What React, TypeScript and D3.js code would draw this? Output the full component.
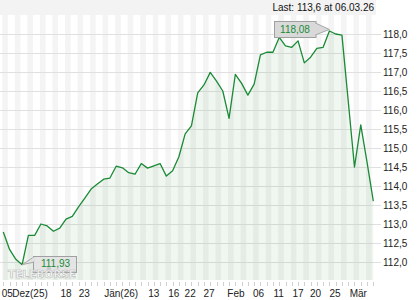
import React from "react";
import * as d3 from "d3";

const values: number[] = [
  112.79, 112.33, 112.07, 111.93, 112.7, 112.7, 113.0, 112.95, 112.81, 112.89,
  113.13, 113.2, 113.45, 113.68, 113.92, 114.05, 114.18, 114.21, 114.52, 114.48,
  114.35, 114.31, 114.59, 114.47, 114.53, 114.59, 114.26, 114.4, 114.77, 115.37,
  115.58, 116.45, 116.66, 116.99, 116.76, 116.5, 115.78, 116.94, 116.7, 116.39,
  116.68, 117.45, 117.52, 117.52, 117.91, 117.69, 117.65, 117.82, 117.24, 117.39,
  117.62, 117.65, 118.08, 118.0, 117.97, 116.24, 114.5, 115.61, 114.63, 113.6,
];

const yTicks: number[] = [112, 112.5, 113, 113.5, 114, 114.5, 115, 115.5, 116, 116.5, 117, 117.5, 118];

const xTickLabels: string[] = ["05", "Dez(25)", "18", "23", "Jän(26)", "13", "16", "22", "27", "Feb", "06", "11", "17", "20", "25", "Mär"];
const xTickIndex: number[] = [0.64, 4.26, 10, 12.9, 18.8, 24, 27.2, 29.8, 32.8, 37.1, 40.7, 43.9, 47, 49.8, 52.9, 56.6];

const lastLabel = "Last: 113,6 at 06.03.26";

const FONT = "'Liberation Sans', Arial, sans-serif";
const fmt = (v: number, d: number) => v.toFixed(d).replace(".", ",");

export default function App() {
  const W = 420, H = 300;
  const plotL = 0, plotR = 376, plotT = 15, plotB = 280;
  const x = d3.scaleLinear().domain([0, values.length - 1]).range([3.3, 373.3]);
  const y = d3.scaleLinear().domain([112, 118]).range([262, 34]);

  const line = d3.line<number>().x((_, i) => x(i)).y((d) => y(d));
  const area = d3.area<number>().x((_, i) => x(i)).y0(plotB).y1((d) => y(d));

  const maxI = values.indexOf(d3.max(values)!);
  const minI = values.indexOf(d3.min(values)!);
  const mx = x(maxI), my = y(values[maxI]);
  const nx = x(minI), ny = y(values[minI]);

  const stripes: number[] = [];
  for (let i = 0; i < values.length; i += 2) stripes.push(i);

  return (
    <svg width={W} height={H} style={{ position: "absolute", left: 0, top: 0, background: "#fff" }} fontFamily={FONT}>
      <rect x={0} y={0} width={plotR} height={plotT} fill="#f3f3f3" />
      {stripes.map((i) => (
        <rect key={i} x={x(i) - 1} y={plotT} width={Math.min(5.6, plotR - (x(i) - 1))} height={plotB - plotT} fill="#f4f4f4" />
      ))}
      {yTicks.map((t) => (
        <g key={t}>
          <line x1={plotL} x2={381} y1={Math.round(y(t)) + 0.5} y2={Math.round(y(t)) + 0.5} stroke="#e0e0e0" strokeWidth={1} />
          <text x={383} y={y(t)} dy="0.36em" fontSize={10} fill="#222">{fmt(t, 1)}</text>
        </g>
      ))}
      <path d={area(values)!} fill="#3a8f3a" fillOpacity={0.075} />
      <path d={line(values)!} fill="none" stroke="#1a8a36" strokeWidth={1.3} strokeLinejoin="round" />
      {values.map((_, i) => (
        <line key={i} x1={Math.round(x(i)) + 0.5} x2={Math.round(x(i)) + 0.5} y1={282} y2={286} stroke="#cfcfcf" strokeWidth={1} />
      ))}
      {xTickLabels.map((l, k) => (
        <text key={l + k} x={x(xTickIndex[k])} y={297} textAnchor="middle" fontSize={10} fill="#222">{l}</text>
      ))}
      <text x={374} y={11} textAnchor="end" fontSize={10} fill="#111">{lastLabel}</text>

      {/* max callout */}
      <path d={`M${mx - 13},23.5 L${mx},${my - 1.5} L${mx - 13},34.5 Z`} fill="#d9d9d9" stroke="#a8a8a8" strokeWidth={1} />
      <rect x={274.5} y={21.5} width={41.5} height={16} fill="#d9d9d9" stroke="#a0a0a0" strokeWidth={1} />
      <rect x={315} y={24} width={2} height={10} fill="#d9d9d9" />
      <text x={295} y={33} textAnchor="middle" fontSize={10} fill="#1a8a36">{fmt(values[maxI], 2)}</text>

      {/* min callout */}
      <path d={`M${nx + 12.5},256.5 L${nx},${ny} L${nx + 12.5},262 Z`} fill="#e2e2e2" stroke="#a8a8a8" strokeWidth={1} />
      <rect x={33.5} y={256.5} width={43} height={16} fill="#e2e2e2" fillOpacity={0.9} stroke="#a0a0a0" strokeWidth={1} />
      <rect x={32.5} y={257.5} width={2} height={4} fill="#e2e2e2" />
      <text x={55.5} y={267} textAnchor="middle" fontSize={10} fill="#1a8a36">{fmt(values[minI], 2)}</text>
      <text x={8} y={278} fontSize={10.5} fontWeight="bold" fill="#ffffff" fillOpacity={0.8} stroke="#bdbdbd" strokeWidth={0.7} letterSpacing={0} fontFamily="'DejaVu Sans', sans-serif">TELEBÖRSE</text>
    </svg>
  );
}
